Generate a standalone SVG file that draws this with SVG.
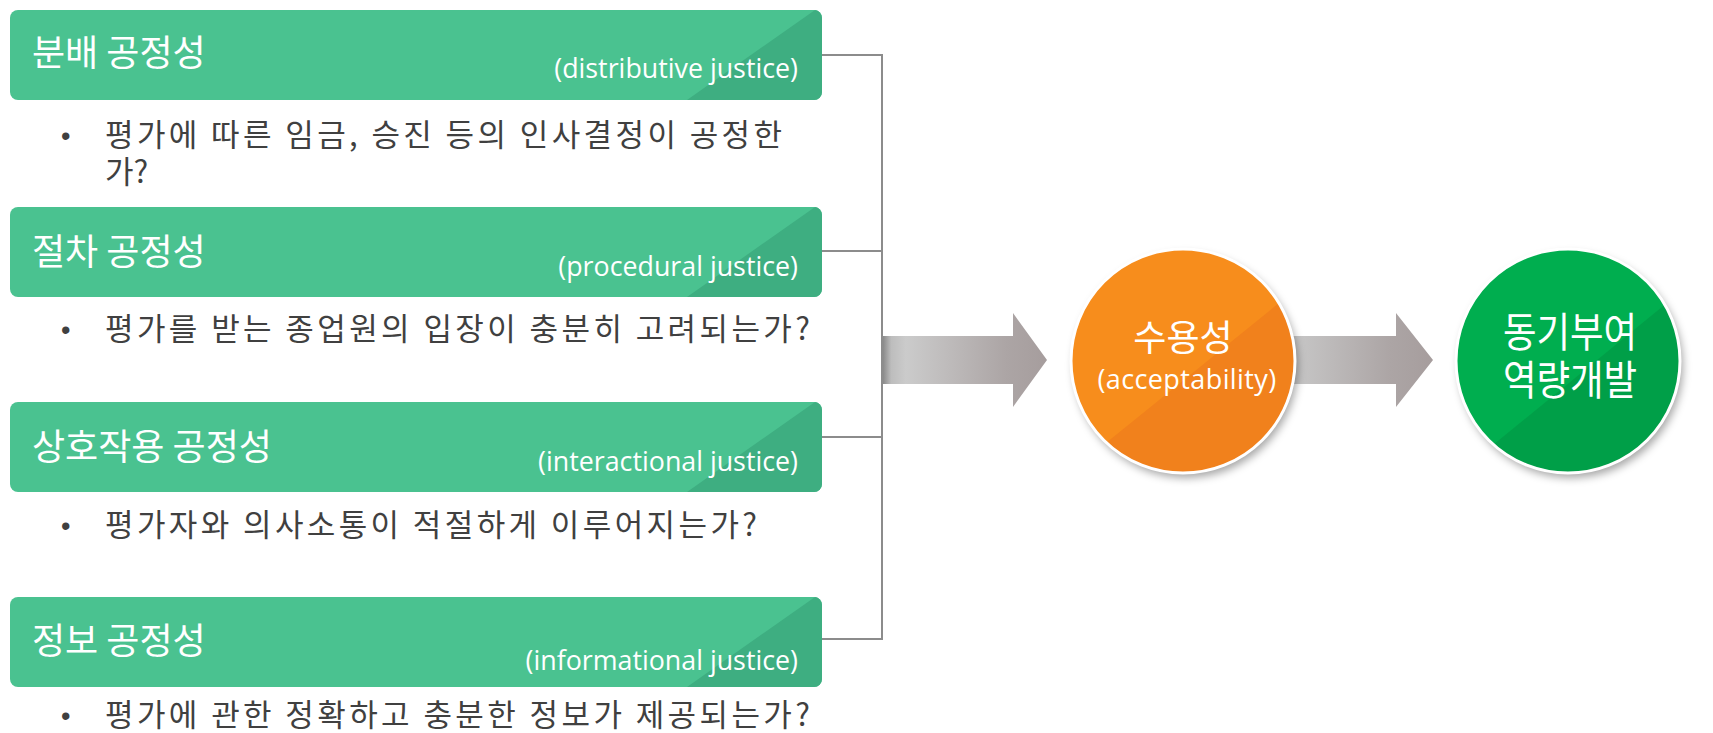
<svg xmlns="http://www.w3.org/2000/svg" width="1713" height="733" viewBox="0 0 1713 733">
<defs>
<style>
.box{fill:#4ac290}
.boxdark{fill:#3eae81}
.title{font-family:"Noto Sans CJK KR","Noto Sans",sans-serif;font-size:36px;fill:#ffffff}
.en{font-family:"Open Sans","Noto Sans",sans-serif;font-size:26.8px;fill:#ffffff;text-anchor:end}
.body{font-family:"Noto Sans CJK KR","Noto Sans",sans-serif;font-size:31px;fill:#404040}
.bullet{font-family:"Liberation Sans",sans-serif;font-size:27px;fill:#404040}
.conn{fill:none;stroke:#8c8c8c;stroke-width:2}
.ctext{font-family:"Noto Sans CJK KR","Noto Sans",sans-serif;fill:#ffffff;text-anchor:middle}
.cen{font-family:"Open Sans","Noto Sans",sans-serif;fill:#ffffff;text-anchor:middle}
.ring{fill:none;stroke:#ffffff;stroke-width:3}
</style>
<g id="boxshape">
<rect x="10" y="0" width="812" height="90" rx="8" class="box"/>
<path d="M687,90 L815,0 A8,8 0 0 1 822,8 L822,82 A8,8 0 0 1 814,90 Z" class="boxdark"/>
</g>
<linearGradient id="g1" gradientUnits="userSpaceOnUse" x1="883" y1="0" x2="1047" y2="0">
<stop offset="0" stop-color="#8a8a8a"/>
<stop offset="0.05" stop-color="#bdbdbd"/>
<stop offset="0.14" stop-color="#cbcbcb"/>
<stop offset="0.75" stop-color="#aca5a5"/>
<stop offset="1" stop-color="#a69d9d"/>
</linearGradient>
<linearGradient id="g2" gradientUnits="userSpaceOnUse" x1="1290" y1="0" x2="1433" y2="0">
<stop offset="0" stop-color="#c8c8c8"/>
<stop offset="0.7" stop-color="#aca5a5"/>
<stop offset="1" stop-color="#a69d9d"/>
</linearGradient>
<filter id="sh" x="-20%" y="-20%" width="150%" height="150%">
<feDropShadow dx="3" dy="5" stdDeviation="4" flood-color="#000000" flood-opacity="0.35"/>
</filter>
<clipPath id="clipO"><circle cx="1183" cy="361" r="112"/></clipPath>
<clipPath id="clipG"><circle cx="1568" cy="361" r="112"/></clipPath>
</defs>
<rect width="1713" height="733" fill="#ffffff"/>

<g id="connectors">
<path class="conn" d="M822,55 H882 M822,251 H882 M822,437 H882 M822,639 H882 M882,54 V640"/>
<polygon fill="url(#g1)" points="883,336 1013,336 1013,313 1047,360 1013,407 1013,384 883,384"/>
<polygon fill="url(#g2)" points="1290,336 1396,336 1396,313 1433,360 1396,407 1396,384 1290,384"/>
</g>

<g id="node-distributive">
<use href="#boxshape" y="10"/>
<text class="title" x="32" y="66">분배 공정성</text>
<text class="en" x="798" y="78">(distributive justice)</text>
<text class="bullet" x="61" y="145">•</text>
<text class="body" x="105" y="146" textLength="677" lengthAdjust="spacing">평가에 따른 임금, 승진 등의 인사결정이 공정한</text>
<text class="body" x="105" y="183">가?</text>
</g>

<g id="node-procedural">
<use href="#boxshape" y="207"/>
<text class="title" x="32" y="265">절차 공정성</text>
<text class="en" x="798" y="276">(procedural justice)</text>
<text class="bullet" x="61" y="339">•</text>
<text class="body" x="105" y="340" textLength="705" lengthAdjust="spacing">평가를 받는 종업원의 입장이 충분히 고려되는가?</text>
</g>

<g id="node-interactional">
<use href="#boxshape" y="402"/>
<text class="title" x="32" y="460">상호작용 공정성</text>
<text class="en" x="798" y="471">(interactional justice)</text>
<text class="bullet" x="61" y="535">•</text>
<text class="body" x="105" y="536" textLength="652" lengthAdjust="spacing">평가자와 의사소통이 적절하게 이루어지는가?</text>
</g>

<g id="node-informational">
<use href="#boxshape" y="597"/>
<text class="title" x="32" y="654">정보 공정성</text>
<text class="en" x="798" y="670">(informational justice)</text>
<text class="bullet" x="61" y="725">•</text>
<text class="body" x="105" y="726" textLength="705" lengthAdjust="spacing">평가에 관한 정확하고 충분한 정보가 제공되는가?</text>
</g>

<g id="node-acceptability">
<circle cx="1183" cy="361" r="112" fill="#f78d1b" filter="url(#sh)"/>
<polygon clip-path="url(#clipO)" fill="#f1811c" points="1478,142 917,596 1500,596 1500,142"/>
<circle class="ring" cx="1183" cy="361" r="112"/>
<text class="ctext" x="1183" y="351" font-size="36">수용성</text>
<text class="cen" x="1187" y="389" font-size="27" letter-spacing="0.4">(acceptability)</text>
</g>

<g id="node-motivation">
<circle cx="1568" cy="361" r="112" fill="#00ae50" filter="url(#sh)"/>
<polygon clip-path="url(#clipG)" fill="#009f48" points="1863,143 1308,596 1900,596 1900,143"/>
<circle class="ring" cx="1568" cy="361" r="112"/>
<text class="ctext" transform="translate(1570,347) scale(0.89,1)" font-size="41">동기부여</text>
<text class="ctext" transform="translate(1570,395) scale(0.89,1)" font-size="41">역량개발</text>
</g>
</svg>
